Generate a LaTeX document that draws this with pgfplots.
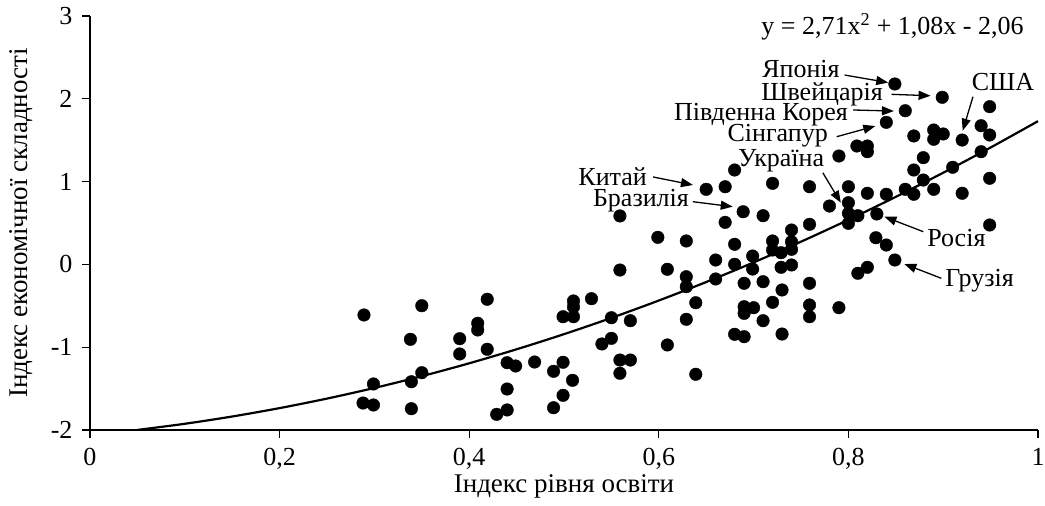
\documentclass[border=0pt]{standalone}
\usepackage{fontspec}
\setmainfont{Liberation Serif}
\usepackage{pgfplots}
\pgfplotsset{compat=1.18}
\usetikzlibrary{arrows.meta}

\newcommand{\fs}{\fontsize{26}{30}\selectfont}
\newcommand{\fl}{\fontsize{27}{31}\selectfont}

\begin{document}
\begin{tikzpicture}
\path[use as bounding box] (-90pt,-76pt) rectangle (955pt,430pt);
\begin{axis}[
    at={(0pt,0pt)}, anchor=south west,
    scale only axis, width=948pt, height=414pt,
    xmin=0, xmax=1, ymin=-2, ymax=3,
    axis x line=bottom, axis y line=left,
    axis line style={-, line width=1.2pt},
    tick align=outside, major tick length=8pt,
    tick style={line width=1.2pt, black},
    xtick={0,0.2,0.4,0.6,0.8,1},
    ytick={-2,-1,0,1,2,3},
    tick label style={font=\fs},
    xticklabel style={yshift=-7pt},
    yticklabel style={xshift=-6pt},
    /pgf/number format/.cd, use comma, assume math mode=true,
    /pgfplots/.cd,
    xlabel={Індекс рівня освіти},
    ylabel={Індекс економічної складності},
    label style={font=\fl},
    xlabel style={at={(axis description cs:0.5,0)}, anchor=center, yshift=-56pt},
    ylabel style={at={(axis description cs:0,0.5)}, anchor=center, yshift=69pt},
    clip=false,
]
% trend line
\addplot[black, line width=2.2pt, smooth, no marks] coordinates {
(0.05,-1.9992)(0.10,-1.9249)(0.15,-1.8370)(0.20,-1.7356)(0.25,-1.6206)
(0.30,-1.4921)(0.35,-1.3500)(0.40,-1.1944)(0.45,-1.0252)(0.50,-0.8425)
(0.55,-0.6462)(0.60,-0.4364)(0.65,-0.2130)(0.70,0.0239)(0.75,0.2744)
(0.80,0.5384)(0.85,0.8160)(0.90,1.1071)(0.95,1.4118)(1.00,1.7300)
};
% countries
\addplot[only marks, mark=*, mark size=6.3pt, black] coordinates {
(0.289,-0.611)(0.299,-1.444)(0.288,-1.674)(0.299,-1.698)(0.338,-0.905)
(0.339,-1.417)(0.339,-1.743)(0.350,-0.499)(0.350,-1.308)(0.390,-0.897)
(0.390,-1.082)(0.409,-0.711)(0.409,-0.792)(0.419,-0.421)(0.419,-1.025)
(0.440,-1.187)(0.449,-1.227)(0.440,-1.505)(0.429,-1.811)(0.440,-1.758)
(0.469,-1.179)(0.489,-1.291)(0.499,-1.182)(0.509,-1.400)(0.499,-1.581)
(0.489,-1.731)(0.499,-0.632)(0.510,-0.632)(0.510,-0.442)(0.510,-0.514)
(0.529,-0.414)(0.550,-0.644)(0.540,-0.961)(0.550,-0.893)(0.570,-0.680)
(0.559,-1.155)(0.570,-1.155)(0.559,-1.315)(0.559,0.585)(0.599,0.327)
(0.629,0.283)(0.559,-0.068)(0.609,-0.059)(0.629,-0.149)(0.629,-0.269)
(0.639,-0.463)(0.629,-0.663)(0.609,-0.973)(0.639,-1.327)
(0.680,1.140)(0.650,0.907)(0.670,0.938)(0.720,0.979)(0.689,0.636)
(0.710,0.588)(0.670,0.508)(0.680,0.243)(0.660,0.053)(0.680,0.001)
(0.699,0.101)(0.699,-0.056)(0.720,0.283)(0.720,0.174)(0.729,0.141)
(0.740,0.415)(0.740,0.274)(0.740,0.182)(0.729,-0.035)(0.740,-0.007)
(0.660,-0.176)(0.690,-0.228)(0.710,-0.209)(0.759,-0.228)(0.730,-0.309)
(0.690,-0.511)(0.700,-0.523)(0.690,-0.591)(0.720,-0.458)(0.759,-0.490)
(0.759,-0.632)(0.790,-0.523)(0.710,-0.680)(0.680,-0.844)(0.690,-0.873)
(0.730,-0.841)(0.759,0.484)(0.759,0.938)(0.780,0.705)(0.790,1.309)
(0.800,0.938)(0.800,0.745)(0.800,0.617)(0.810,0.588)(0.800,0.496)
(0.820,0.859)(0.840,0.847)(0.860,0.907)(0.869,0.847)(0.879,1.019)
(0.890,0.907)(0.920,0.859)(0.830,0.609)(0.829,0.322)(0.840,0.234)
(0.849,0.053)(0.810,-0.107)(0.820,-0.035)(0.949,0.476)(0.809,1.430)
(0.820,1.430)(0.820,1.361)(0.869,1.551)(0.890,1.623)(0.900,1.575)
(0.890,1.511)(0.879,1.289)(0.869,1.140)(0.910,1.173)(0.920,1.502)
(0.940,1.675)(0.949,1.563)(0.949,1.905)(0.940,1.361)(0.949,1.040)
(0.849,2.179)(0.899,2.018)(0.860,1.856)(0.840,1.716)
};
% annotations
\tikzset{lbl/.style={font=\fs, inner sep=0pt},
         arr/.style={-{Triangle[length=12pt,width=9pt]}, line width=1.3pt}}
\node[lbl, anchor=east] at (axis cs:0.985,2.868) {y = 2,71x\textsuperscript{2} + 1,08x - 2,06};
\node[lbl, anchor=east] at (axis cs:0.791,2.355) {Японія};
\draw[arr] (axis cs:0.796,2.287) -- (axis cs:0.842,2.196);
\node[lbl, anchor=east] at (axis cs:0.8365,2.058) {Швейцарія};
\draw[arr] (axis cs:0.8457,2.054) -- (axis cs:0.8867,2.037);
\node[lbl, anchor=east] at (axis cs:0.7996,1.811) {Південна Корея};
\draw[arr] (axis cs:0.805,1.865) -- (axis cs:0.848,1.852);
\node[lbl, anchor=east] at (axis cs:0.7785,1.551) {Сінгапур};
\draw[arr] (axis cs:0.7876,1.542) -- (axis cs:0.8284,1.671);
\node[lbl] at (axis cs:0.729,1.249) {Україна};
\draw[arr] (axis cs:0.773,1.107) -- (axis cs:0.792,0.745);
\node[lbl, anchor=east] at (axis cs:0.5876,1.060) {Китай};
\draw[arr] (axis cs:0.594,1.056) -- (axis cs:0.636,0.959);
\node[lbl, anchor=east] at (axis cs:0.6319,0.772) {Бразилія};
\draw[arr] (axis cs:0.636,0.757) -- (axis cs:0.678,0.697);
\node[lbl, anchor=west] at (axis cs:0.930,2.203) {США};
\draw[arr] (axis cs:0.9314,2.025) -- (axis cs:0.9206,1.615);
\node[lbl, anchor=west] at (axis cs:0.883,0.319) {Росія};
\draw[arr] (axis cs:0.879,0.395) -- (axis cs:0.838,0.576);
\node[lbl, anchor=west] at (axis cs:0.902,-0.200) {Грузія};
\draw[arr] (axis cs:0.898,-0.168) -- (axis cs:0.859,0.005);
\end{axis}
\end{tikzpicture}
\end{document}
